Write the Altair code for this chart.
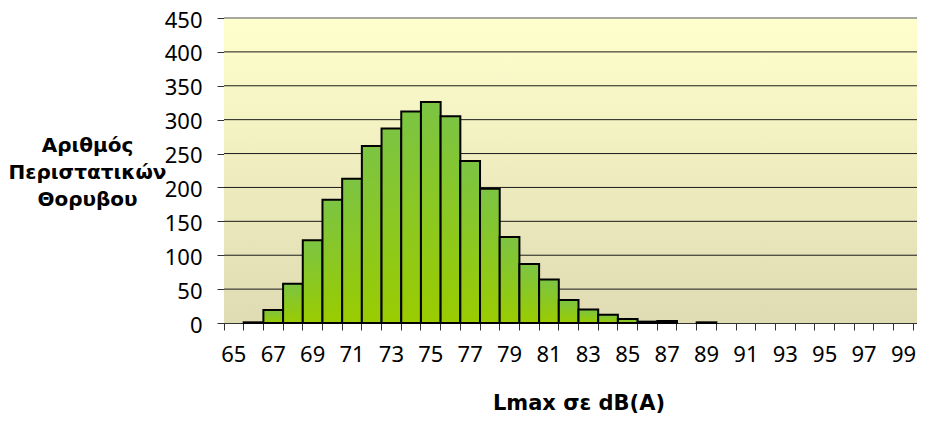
import altair as alt
import pandas as pd

# Data
levels = list(range(65, 101))
counts = [0, 1, 19, 58, 122, 182, 213, 261, 287, 312, 326, 305, 239, 198, 127,
          87, 64, 34, 20, 12, 6, 2, 3, 0, 1, 0, 0, 0, 0, 0, 0, 0, 0, 0, 0, 0]
y_ticks = [0, 50, 100, 150, 200, 250, 300, 350, 400, 450]
grid_lines = [50, 100, 150, 200, 250, 300, 350, 400]
top_line = [450]

x_title = "Lmax σε dB(A)"
y_title = ["Αριθμός", "Περιστατικών", "Θορυβου"]

W = 693
H = 305
BAND_RANGE = 709

df = pd.DataFrame({"level": levels, "count": counts})
grid_df = pd.DataFrame({"count": grid_lines})
top_df = pd.DataFrame({"count": top_line})
one = pd.DataFrame({"a": [0]})

yscale = alt.Scale(domain=[0, 450], nice=False)
yaxis = alt.Axis(
    values=y_ticks,
    title=y_title,
    labelFont="Noto Sans",
    labelFontSize=22,
    labelColor="#000000",
    labelPadding=15,
    labelOffset=2,
    tickSize=7,
    tickColor="#333333",
    domainColor="#333333",
    titleFont="DejaVu Sans",
    titleFontSize=20,
    titleFontWeight="bold",
    titleColor="#000000",
    titleAngle=0,
    titleAlign="center",
    titleBaseline="middle",
    titleLineHeight=27,
    titleX=-137,
    titleY=127,
    grid=False,
)

bg = alt.Chart(one).mark_rect(
    fill=alt.Gradient(
        gradient="linear",
        stops=[alt.GradientStop(color="#FFFFCC", offset=0),
               alt.GradientStop(color="#DFDBB3", offset=1)],
        x1=0, x2=0, y1=0, y2=1,
    )
).encode(x=alt.value(0), x2=alt.value(W), y=alt.value(0), y2=alt.value(H))

grid = alt.Chart(grid_df).mark_rule(color="#1a1a1a", strokeWidth=1).encode(
    y=alt.Y("count:Q", scale=yscale, axis=yaxis)
)
top = alt.Chart(top_df).mark_rule(color="#8a8a8a", strokeWidth=1.5).encode(
    y=alt.Y("count:Q", scale=yscale, axis=yaxis)
)

bars = alt.Chart(df).transform_filter("datum.count > 0").mark_bar(
    stroke="black",
    strokeWidth=2,
    fill=alt.Gradient(
        gradient="linear",
        stops=[alt.GradientStop(color="#7CC443", offset=0),
               alt.GradientStop(color="#9ACC00", offset=1)],
        x1=0, x2=0, y1=0, y2=1,
    ),
).encode(
    x=alt.X(
        "level:O",
        scale=alt.Scale(domain=levels, range=[0, BAND_RANGE], paddingInner=0, paddingOuter=0),
        axis=alt.Axis(
            title=x_title,
            bandPosition=0,
            labelExpr="datum.value % 2 === 1 ? datum.label : ''",
            labelAngle=0,
            labelOverlap=False,
            labelFont="Noto Sans",
            labelFontSize=22,
            labelColor="#000000",
            labelPadding=14,
            tickSize=7,
            tickColor="#333333",
            domainColor="#333333",
            titleFont="DejaVu Sans",
            titleFontSize=21,
            titleFontWeight="bold",
            titleColor="#000000",
            titleBaseline="middle",
            titleY=80,
            grid=False,
        ),
    ),
    y=alt.Y("count:Q", scale=yscale, axis=yaxis),
)

chart = alt.layer(bg, grid, top, bars).properties(
    width=W,
    height=H,
    autosize=alt.AutoSizeParams(type="none"),
    padding={"left": 216, "top": 10, "right": 0, "bottom": 90},
).configure_view(stroke=None).configure(background="white")

chart.save("out.html", embed_options={"renderer": "svg", "actions": False})
